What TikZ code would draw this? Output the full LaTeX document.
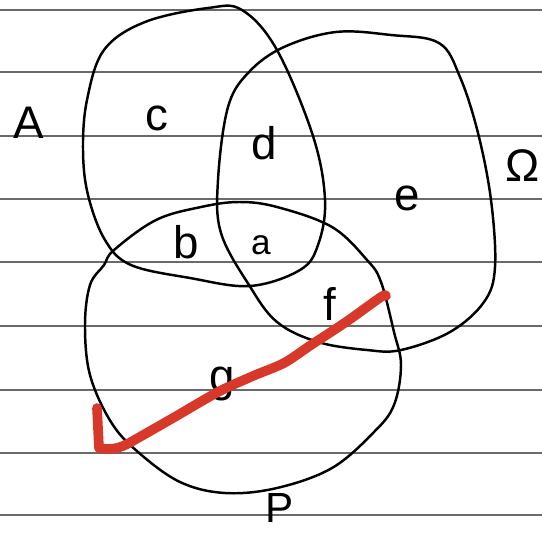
\documentclass[tikz,border=0pt]{standalone}
\usepackage{fontspec}
\setmainfont{Liberation Sans}
\usepackage{tikz}
\usetikzlibrary{positioning}
\definecolor{rulegray}{HTML}{6A6A6A}
\definecolor{penred}{HTML}{D7382A}

\begin{document}
\begin{tikzpicture}[
    x=0.02cm, y=-0.02cm,
    ruled/.style={line width=0.9pt, rulegray},
    setline/.style={line width=1.4pt, black},
    lbl/.style={font=\fontsize{26}{30}\selectfont, inner sep=0pt},
    redmark/.style={line width=5.5pt, penred, line cap=round, line join=round},
]
\useasboundingbox (0,0) rectangle (542,535);
\fill[white] (0,0) rectangle (542,535);
%% -- Paper rules --
\foreach \y in {10,72,136,199,262,326,390,453,515}{
  \draw[ruled] (0,\y) -- (542,\y);
}
%% -- Set A --
\draw[setline] plot[smooth cycle, tension=0.6] coordinates {
  (242,10) (277,50) (313,136) (325,200) (318,245) (300,270) (250,286)
  (190,278) (131,265) (105,240) (88,195) (83,150) (87,100) (104,50)
  (145,22) (208,8)};
%% -- Set S --
\draw[setline] plot[smooth cycle, tension=0.6] coordinates {
  (336,32) (391,35) (439,43) (460,77) (478,133) (491,200) (495,267)
  (484,302) (450,332) (401,350) (367,350) (318,342) (277,322) (249,285)
  (221,233) (218,180) (228,107) (249,72) (284,47)};
%% -- Set P --
\draw[setline] plot[smooth cycle, tension=0.6] coordinates {
  (239,202) (277,207) (332,227) (367,260) (381,282) (394,332) (401,365)
  (394,405) (374,432) (332,468) (277,488) (225,493) (180,482) (138,452)
  (111,422) (90,375) (85,325) (90,285) (104,265) (114,250) (156,220)
  (201,207)};
%% -- Region labels --
\node[lbl] (lA) at (29,123) {A};
\node[lbl] (lc) at (157,118) {c};
\node[lbl] (ld) at (264,143) {d};
\node[lbl] (le) at (407,198) {e};
\node[lbl, anchor=east] (lO) at (540,166) {Ω};
\node[lbl] (lb) at (186,242) {b};
\node[lbl, font=\fontsize{20}{24}\selectfont] (la) at (261,245) {a};
\node[lbl] (lf) at (330,304) {f};
\node[lbl] (lg) at (222,384) {g};
\node[lbl, font=\fontsize{24}{28}\selectfont] (lP) at (280,508) {P};
%% -- Red tick --
\draw[redmark] (97,408) -- (99,448) to[out=-10,in=210] (131,442);
\draw[redmark] plot[smooth, tension=0.5] coordinates {
  (131,442) (173,418) (218,392) (253,376) (284,363) (311,345)
  (346,322) (381,297) (386,296)};
\end{tikzpicture}
\end{document}
